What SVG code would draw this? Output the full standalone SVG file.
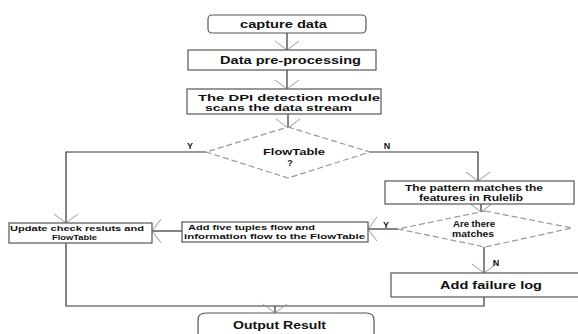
<svg xmlns="http://www.w3.org/2000/svg" width="578" height="334" viewBox="0 0 578 334">
<defs>
<style>
.box{fill:#fff;stroke:#555;stroke-width:1.2}
.dia{fill:#fff;stroke:#999;stroke-width:1.2;stroke-dasharray:6,3}
.ln{fill:none;stroke:#333;stroke-width:1.2}
.t{font-family:"Liberation Sans","Open Sans",sans-serif;font-weight:bold;font-size:11px;fill:#111}
.s{font-size:9px}
.m{font-size:8.6px}
.xs{font-size:7.8px}
</style>
<marker id="ah" markerUnits="userSpaceOnUse" markerWidth="12" markerHeight="28" viewBox="0 0 12 28" refX="10" refY="14" orient="auto">
<path d="M1,2 L10,14 L1,26" fill="none" stroke="#999" stroke-width="1"/>
</marker>
</defs>
<rect width="578" height="334" fill="#fff"/>
<g id="connectors">
<line class="ln" x1="287" y1="33" x2="287" y2="50" marker-end="url(#ah)"/>
<line class="ln" x1="287" y1="70" x2="287" y2="89" marker-end="url(#ah)"/>
<line class="ln" x1="288" y1="114" x2="288" y2="128" marker-end="url(#ah)"/>
<polyline class="ln" points="206,152 66,152 66,223" marker-end="url(#ah)"/>
<polyline class="ln" points="370,152 478,152 478,181" marker-end="url(#ah)"/>
<line class="ln" x1="182" y1="231" x2="152" y2="231" marker-end="url(#ah)"/>
<line class="ln" x1="481" y1="204" x2="481" y2="212" marker-end="url(#ah)"/>
<line class="ln" x1="398" y1="229" x2="368" y2="229" marker-end="url(#ah)"/>
<line class="ln" x1="484" y1="247" x2="484" y2="273" marker-end="url(#ah)"/>
<polyline class="ln" points="66,243 66,306 484,306 484,297"/>
<line class="ln" x1="275" y1="306" x2="275" y2="313" marker-end="url(#ah)"/>
<text class="t s" x="190" y="149" text-anchor="middle">Y</text>
<text class="t s" x="387" y="149" text-anchor="middle">N</text>
<text class="t s" x="386" y="228" text-anchor="middle">Y</text>
<text class="t s" x="496" y="266" text-anchor="middle">N</text>
</g>
<g id="capture">
<rect class="box" x="208" y="15" width="158" height="18" rx="4"/>
<text class="t" x="240" y="28" textLength="87" lengthAdjust="spacingAndGlyphs">capture data</text>
</g>
<g id="preprocess">
<rect class="box" x="188" y="50" width="188" height="20"/>
<text class="t" x="220" y="64" textLength="141" lengthAdjust="spacingAndGlyphs">Data pre-processing</text>
</g>
<g id="dpi">
<rect class="box" x="187" y="89" width="194" height="25"/>
<text class="t s" x="198" y="100.5" textLength="182" lengthAdjust="spacingAndGlyphs">The DPI detection module</text>
<text class="t s" x="205" y="111" textLength="147" lengthAdjust="spacingAndGlyphs">scans the data stream</text>
</g>
<g id="flowtable">
<polygon class="dia" points="288,127 370,152 288,178 206,152"/>
<text class="t s" x="263" y="155" textLength="62" lengthAdjust="spacingAndGlyphs">FlowTable</text>
<text class="t s" x="290" y="166" text-anchor="middle">?</text>
</g>
<g id="update">
<rect class="box" x="9" y="223" width="143" height="20"/>
<text class="t xs" x="10" y="231" textLength="134" lengthAdjust="spacingAndGlyphs">Update check resluts and</text>
<text class="t xs" x="52" y="240" textLength="45" lengthAdjust="spacingAndGlyphs">FlowTable</text>
</g>
<g id="addfive">
<rect class="box" x="182" y="222" width="186" height="20"/>
<text class="t xs" x="188" y="230" textLength="127" lengthAdjust="spacingAndGlyphs">Add five tuples flow and</text>
<text class="t xs" x="184" y="239" textLength="181" lengthAdjust="spacingAndGlyphs">information flow to the FlowTable</text>
</g>
<g id="pattern">
<rect class="box" x="385" y="181" width="189" height="23"/>
<text class="t m" x="405" y="191" textLength="138" lengthAdjust="spacingAndGlyphs">The pattern matches the</text>
<text class="t m" x="419" y="201" textLength="104" lengthAdjust="spacingAndGlyphs">features in Rulelib</text>
</g>
<g id="matches">
<polygon class="dia" points="485,211 572,228 485,247 398,229"/>
<text class="t m" x="453" y="227" textLength="42" lengthAdjust="spacingAndGlyphs">Are there</text>
<text class="t m" x="452" y="237" textLength="42" lengthAdjust="spacingAndGlyphs">matches</text>
</g>
<g id="failure">
<rect class="box" x="391" y="273" width="190" height="24"/>
<text class="t" x="440" y="289" textLength="102" lengthAdjust="spacingAndGlyphs">Add failure log</text>
</g>
<g id="output">
<path class="box" d="M198,340 L198,320 Q198,313 206,313 L366,313 Q374,313 374,320 L374,340"/>
<text class="t" x="233" y="329" textLength="93" lengthAdjust="spacingAndGlyphs">Output Result</text>
</g>
</svg>
